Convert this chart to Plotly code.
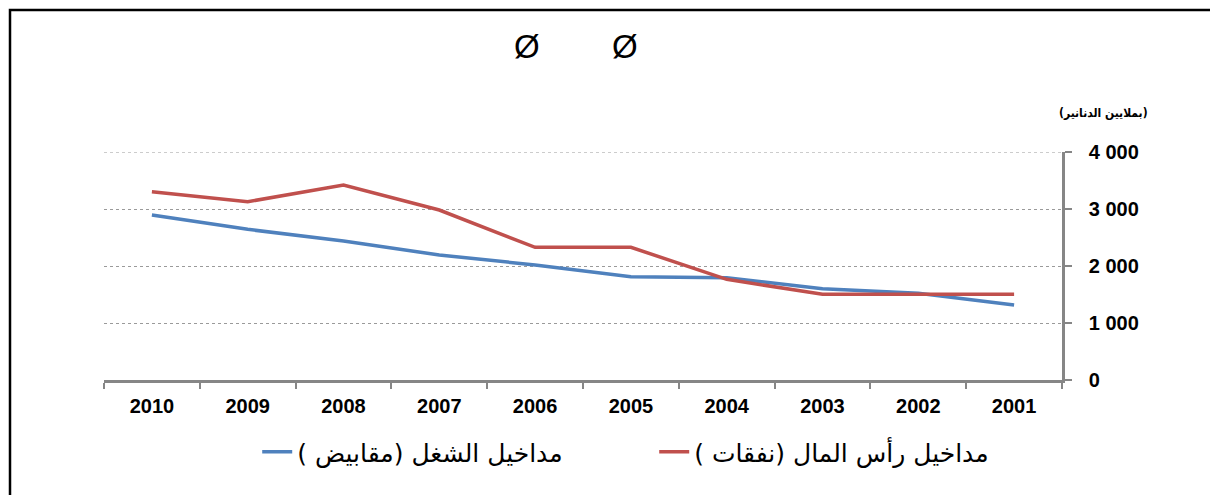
import plotly.graph_objects as go

years = ["2010", "2009", "2008", "2007", "2006", "2005", "2004", "2003", "2002", "2001"]
labor = [2895, 2643, 2439, 2193, 2018, 1813, 1795, 1602, 1520, 1316]
capital = [3303, 3128, 3421, 2982, 2328, 2328, 1766, 1503, 1503, 1503]
name_labor = "مداخيل الشغل (مقابيض )"
name_capital = "مداخيل رأس المال (نفقات )"
y_ticks = [0, 1000, 2000, 3000, 4000]
units = "(بملايين الدنانير)"

W, H = 1210, 495
L, R, T, B = 104, 1062, 152, 380

def px(x):
    return (x - L) / (R - L)

def py(y):
    return (B - y) / (B - T)

fig = go.Figure()
fig.add_trace(go.Scatter(x=years, y=labor, name=name_labor, mode="lines",
                         line=dict(color="#4F81BD", width=3.5)))
fig.add_trace(go.Scatter(x=years, y=capital, name=name_capital, mode="lines",
                         line=dict(color="#C0504D", width=3.5)))

tick_font = dict(size=20, family="Liberation Sans, Arial", color="black", weight="bold")

fig.update_layout(
    width=W, height=H,
    margin=dict(l=L, r=W - R, t=T, b=H - B),
    paper_bgcolor="white", plot_bgcolor="white",
    separators=". ",
    font=dict(family="Liberation Sans, Arial, DejaVu Sans", color="black"),
    showlegend=True,
    legend=dict(orientation="h", x=px(262) - 0.005, y=py(452), xanchor="left", yanchor="middle",
                font=dict(size=25, family="DejaVu Sans, Liberation Sans"),
                traceorder="normal", entrywidth=352, bgcolor="rgba(0,0,0,0)"),
    xaxis=dict(type="category", range=[-0.5, 9.5], showgrid=False, showline=True,
               linecolor="#868686", linewidth=2.5, ticks="outside", tickson="boundaries",
               ticklen=6, tickwidth=2, tickcolor="#868686",
               tickfont=tick_font, ticklabelstandoff=6, fixedrange=True),
    yaxis=dict(side="right", range=[0, 4000], tickvals=y_ticks, tickformat=",d",
               showline=True, linecolor="#868686", linewidth=2.5,
               ticks="outside", ticklen=7, tickwidth=2, tickcolor="#868686",
               showgrid=True, gridcolor="#9a9a9a", griddash="dot", gridwidth=1,
               zeroline=False,
               tickfont=tick_font, ticklabelstandoff=13, fixedrange=True),
    shapes=[
        dict(type="line", xref="paper", yref="y", x0=0, x1=1, y0=y_ticks[-1], y1=y_ticks[-1],
             line=dict(color="#9a9a9a", width=1, dash="dot"), layer="below"),
        dict(type="rect", xref="paper", yref="paper",
             x0=px(10), x1=px(1300), y0=py(600), y1=py(10),
             line=dict(color="black", width=2.5), layer="above"),
    ],
    annotations=[
        dict(text="Ø", x=px(527), y=py(46), xref="paper", yref="paper", showarrow=False,
             font=dict(size=33, family="Liberation Sans, Arial"), xanchor="center", yanchor="middle"),
        dict(text="Ø", x=px(625), y=py(46), xref="paper", yref="paper", showarrow=False,
             font=dict(size=33, family="Liberation Sans, Arial"), xanchor="center", yanchor="middle"),
        dict(text="<b>" + units + "</b>", x=px(1103), y=py(113), xref="paper", yref="paper",
             showarrow=False, font=dict(size=12, family="DejaVu Sans Condensed, DejaVu Sans"),
             xanchor="center", yanchor="middle"),
    ],
)

fig.write_html("out.html", config={"displayModeBar": False},
               post_script="document.body.style.margin='0';")
